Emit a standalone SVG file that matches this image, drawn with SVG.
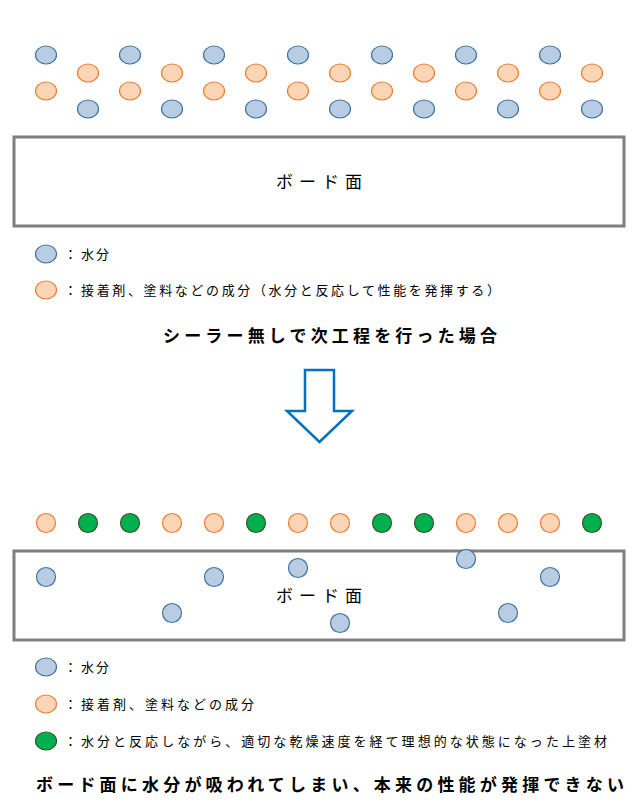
<svg xmlns="http://www.w3.org/2000/svg" width="642" height="808" viewBox="0 0 642 808">
<style>
.w{fill:#b8cce4;stroke:#41719c;stroke-width:1.2}
.o{fill:#fbd5b5;stroke:#ed7d31;stroke-width:1.2}
.g{fill:#00b050;stroke:#375623;stroke-width:1.2}
.b{fill:#fff;stroke:#7f7f7f;stroke-width:3}
text{font-family:"Noto Sans CJK JP",sans-serif;fill:#000}
.s{font-size:13px}
.h{font-size:17px;font-weight:bold}
.bd{font-size:17px}
</style>
<rect width="642" height="808" fill="#fff"/>
<g id="top">
<g id="top-row1">
<ellipse class="w" cx="46" cy="55" rx="10.5" ry="9"/><ellipse class="w" cx="130" cy="55" rx="10.5" ry="9"/><ellipse class="w" cx="214" cy="55" rx="10.5" ry="9"/><ellipse class="w" cx="298" cy="55" rx="10.5" ry="9"/><ellipse class="w" cx="382" cy="55" rx="10.5" ry="9"/><ellipse class="w" cx="466" cy="55" rx="10.5" ry="9"/><ellipse class="w" cx="550" cy="55" rx="10.5" ry="9"/>
</g>
<g id="top-row2">
<ellipse class="o" cx="88" cy="73" rx="10.5" ry="9"/><ellipse class="o" cx="172" cy="73" rx="10.5" ry="9"/><ellipse class="o" cx="256" cy="73" rx="10.5" ry="9"/><ellipse class="o" cx="340" cy="73" rx="10.5" ry="9"/><ellipse class="o" cx="424" cy="73" rx="10.5" ry="9"/><ellipse class="o" cx="508" cy="73" rx="10.5" ry="9"/><ellipse class="o" cx="592" cy="73" rx="10.5" ry="9"/>
</g>
<g id="top-row3">
<ellipse class="o" cx="46" cy="91" rx="10.5" ry="9"/><ellipse class="o" cx="130" cy="91" rx="10.5" ry="9"/><ellipse class="o" cx="214" cy="91" rx="10.5" ry="9"/><ellipse class="o" cx="298" cy="91" rx="10.5" ry="9"/><ellipse class="o" cx="382" cy="91" rx="10.5" ry="9"/><ellipse class="o" cx="466" cy="91" rx="10.5" ry="9"/><ellipse class="o" cx="550" cy="91" rx="10.5" ry="9"/>
</g>
<g id="top-row4">
<ellipse class="w" cx="88" cy="109" rx="10.5" ry="9"/><ellipse class="w" cx="172" cy="109" rx="10.5" ry="9"/><ellipse class="w" cx="256" cy="109" rx="10.5" ry="9"/><ellipse class="w" cx="340" cy="109" rx="10.5" ry="9"/><ellipse class="w" cx="424" cy="109" rx="10.5" ry="9"/><ellipse class="w" cx="508" cy="109" rx="10.5" ry="9"/><ellipse class="w" cx="592" cy="109" rx="10.5" ry="9"/>
</g>
<g id="board1"><rect class="b" x="14" y="137" width="610" height="89"/><text class="bd" x="276" y="188" textLength="86" lengthAdjust="spacing">ボード面</text></g>
<g id="legend1">
<ellipse class="w" cx="46" cy="254" rx="10.5" ry="9"/><text class="s" x="64" y="259">：</text><text class="s" x="81" y="259" textLength="28" lengthAdjust="spacing">水分</text>
<ellipse class="o" cx="46" cy="290" rx="10.5" ry="9"/><text class="s" x="64" y="295">：</text><text class="s" x="81" y="295" textLength="419" lengthAdjust="spacing">接着剤、塗料などの成分（水分と反応して性能を発揮する）</text>
</g>
<text id="heading" class="h" x="163" y="342" textLength="334" lengthAdjust="spacing">シーラー無しで次工程を行った場合</text>
</g>
<g id="connectors">
<path d="M305 370 H334 V411 H352 L319.5 442 L287 411 H305 Z" fill="#fff" stroke="#0070c0" stroke-width="2.5"/>
</g>
<g id="bottom">
<g id="bottom-row">
<circle class="o" cx="46" cy="523" r="9.5"/><circle class="g" cx="88" cy="523" r="9.5"/><circle class="g" cx="130" cy="523" r="9.5"/><circle class="o" cx="172" cy="523" r="9.5"/><circle class="o" cx="214" cy="523" r="9.5"/><circle class="g" cx="256" cy="523" r="9.5"/><circle class="o" cx="298" cy="523" r="9.5"/><circle class="o" cx="340" cy="523" r="9.5"/><circle class="g" cx="382" cy="523" r="9.5"/><circle class="g" cx="424" cy="523" r="9.5"/><circle class="o" cx="466" cy="523" r="9.5"/><circle class="o" cx="508" cy="523" r="9.5"/><circle class="o" cx="550" cy="523" r="9.5"/><circle class="g" cx="592" cy="523" r="9.5"/>
</g>
<g id="board2"><rect class="b" x="14" y="551" width="610" height="89"/><text class="bd" x="276" y="602" textLength="86" lengthAdjust="spacing">ボード面</text>
<circle class="w" cx="46" cy="577" r="9.5"/><circle class="w" cx="214" cy="577" r="9.5"/><circle class="w" cx="298" cy="568" r="9.5"/><circle class="w" cx="466" cy="559" r="9.5"/><circle class="w" cx="550" cy="577" r="9.5"/><circle class="w" cx="172" cy="613" r="9.5"/><circle class="w" cx="340" cy="623" r="9.5"/><circle class="w" cx="508" cy="613" r="9.5"/>
</g>
<g id="legend2">
<ellipse class="w" cx="46" cy="667" rx="10.5" ry="9"/><text class="s" x="64" y="672">：</text><text class="s" x="81" y="672" textLength="28" lengthAdjust="spacing">水分</text>
<ellipse class="o" cx="46" cy="704" rx="10.5" ry="9"/><text class="s" x="64" y="709">：</text><text class="s" x="81" y="709" textLength="173" lengthAdjust="spacing">接着剤、塗料などの成分</text>
<ellipse class="g" cx="46" cy="741" rx="10.5" ry="9"/><text class="s" x="64" y="746">：</text><text class="s" x="81" y="746" textLength="526" lengthAdjust="spacing">水分と反応しながら、適切な乾燥速度を経て理想的な状態になった上塗材</text>
</g>
<text id="footer" class="h" x="36" y="791" textLength="588" lengthAdjust="spacing">ボード面に水分が吸われてしまい、本来の性能が発揮できない</text>
</g>
</svg>
